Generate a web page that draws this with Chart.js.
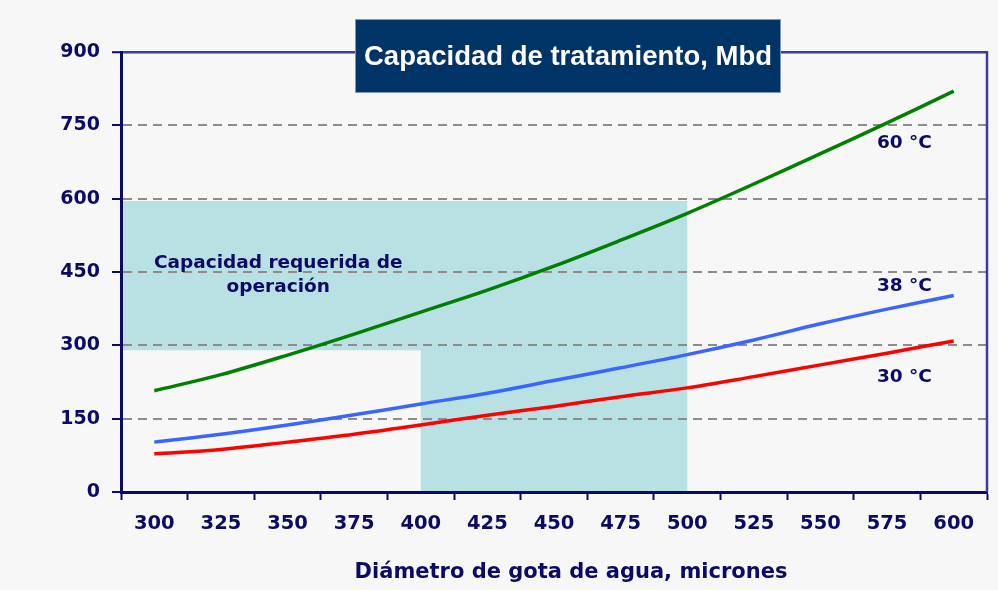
<!DOCTYPE html>
<html>
<head>
<meta charset="utf-8">
<script src="https://cdn.jsdelivr.net/npm/chart.js@4.4.1/dist/chart.umd.min.js"></script>
<style>
  html, body { margin: 0; padding: 0; background: #f7f7f7; }
  #wrap { width: 998px; height: 590px; position: relative; }
</style>
</head>
<body>
<div id="wrap"><canvas id="c"></canvas></div>
<script>
// ---- Data ----
const categories = ['300','325','350','375','400','425','450','475','500','525','550','575','600'];
const capacity60C = [207, 240, 280, 323, 368, 413, 462, 515, 570, 630, 692, 755, 820];
const capacity38C = [102, 118, 137, 158, 180, 202, 228, 254, 281, 311, 344, 374, 402];
const capacity30C = [78, 87, 102, 118, 137, 157, 175, 195, 213, 236, 260, 284, 309];
const yTickValues = [0, 150, 300, 450, 600, 750, 900];
const seriesLabels = ['60 °C', '38 °C', '30 °C'];
// required operating capacity region (category bounds and values)
const shadeCategories = ['400', '500'];
const shadeTop = 595;
const shadeLowLeft = 290;
const chartTitle = 'Capacidad de tratamiento, Mbd';
const regionLabel = ['Capacidad requerida de', 'operación'];
const xTitle = 'Diámetro de gota de agua, micrones';

// ---- Styles ----
const NAVY = '#0b0b66';
const FRAME = '#3b3ba3';
const GRID = '#8c8c8c';
const TEAL = '#b9e0e3';
const TXT_FONT = '"DejaVu Sans", Verdana, sans-serif';

const bgAndShade = {
  id: 'bgAndShade',
  beforeDraw(chart) {
    const {ctx, chartArea: a, scales: {x, y}} = chart;
    ctx.save();
    ctx.fillStyle = '#f7f7f7';
    ctx.fillRect(0, 0, chart.width, chart.height);
    ctx.fillStyle = TEAL;
    const x400 = x.getPixelForValue(categories.indexOf(shadeCategories[0]));
    const x500 = x.getPixelForValue(categories.indexOf(shadeCategories[1]));
    const yTop = y.getPixelForValue(shadeTop);
    const yLow = y.getPixelForValue(shadeLowLeft);
    const y0 = y.getPixelForValue(0);
    ctx.beginPath();
    ctx.moveTo(a.left, yTop);
    ctx.lineTo(x500, yTop);
    ctx.lineTo(x500, y0);
    ctx.lineTo(x400, y0);
    ctx.lineTo(x400, yLow);
    ctx.lineTo(a.left, yLow);
    ctx.closePath();
    ctx.fill();
    ctx.restore();
  },
  afterDatasetsDraw(chart) {
    const {ctx, chartArea: a, scales: {x, y}} = chart;
    ctx.save();
    ctx.fillStyle = NAVY;
    ctx.font = 'bold 18.5px ' + TXT_FONT;
    ctx.textAlign = 'center';
    ctx.textBaseline = 'middle';
    ctx.fillText(regionLabel[0], x.getPixelForValue(1.86), y.getPixelForValue(468));
    ctx.fillText(regionLabel[1], x.getPixelForValue(1.86), y.getPixelForValue(419));
    const lx = x.getPixelForValue(11.26);
    ctx.fillText(seriesLabels[0], lx, y.getPixelForValue(714));
    ctx.fillText(seriesLabels[1], lx, y.getPixelForValue(420));
    ctx.fillText(seriesLabels[2], lx, y.getPixelForValue(235));
    // right frame
    ctx.strokeStyle = FRAME;
    ctx.lineWidth = 2.5;
    ctx.beginPath();
    ctx.moveTo(a.right, a.top - 1);
    ctx.lineTo(a.right, a.bottom);
    ctx.stroke();
    ctx.restore();
  },
  afterDraw(chart) {
    const {ctx} = chart;
    ctx.save();
    // x axis title
    ctx.fillStyle = NAVY;
    ctx.font = 'bold 21px ' + TXT_FONT;
    ctx.textAlign = 'center';
    ctx.textBaseline = 'middle';
    ctx.fillText(xTitle, 571, 573);
    // title box
    ctx.fillStyle = '#003366';
    ctx.fillRect(355, 19, 426, 74);
    ctx.strokeStyle = '#7d98bf';
    ctx.lineWidth = 1;
    ctx.strokeRect(355.5, 19.5, 425, 73);
    ctx.fillStyle = '#ffffff';
    ctx.font = 'bold 27.5px "Liberation Sans", Arial, sans-serif';
    ctx.fillText(chartTitle, 568, 57);
    ctx.restore();
  }
};

new Chart(document.getElementById('c'), {
  type: 'line',
  data: {
    labels: categories,
    datasets: [
      { label: seriesLabels[0], data: capacity60C, borderColor: '#008000', borderWidth: 3.5, pointRadius: 0, tension: 0.35, fill: false },
      { label: seriesLabels[1], data: capacity38C, borderColor: '#3a66ff', borderWidth: 3.5, pointRadius: 0, tension: 0.35, fill: false },
      { label: seriesLabels[2], data: capacity30C, borderColor: '#ff0000', borderWidth: 3.5, pointRadius: 0, tension: 0.35, fill: false }
    ]
  },
  options: {
    responsive: true,
    maintainAspectRatio: false,
    animation: false,
    layout: { padding: { top: 52, right: 11, left: 0, bottom: 0 } },
    plugins: { legend: { display: false }, tooltip: { enabled: false } },
    scales: {
      x: {
        type: 'category',
        offset: true,
        grid: { display: true, drawOnChartArea: false, drawTicks: true, offset: true, tickLength: 8, tickColor: NAVY, tickWidth: 2 },
        border: { display: true, color: NAVY, width: 3 },
        ticks: { color: NAVY, font: { family: TXT_FONT, size: 19.5, weight: 'bold' }, padding: 12, maxRotation: 0, autoSkip: false },
        afterFit(scale) { scale.height = 98; }
      },
      y: {
        min: 0, max: 900,
        afterBuildTicks(scale) { scale.ticks = yTickValues.map(v => ({ value: v })); },
        grid: {
          color: c => c.tick.value === 900 ? FRAME : (c.tick.value === 0 ? 'rgba(0,0,0,0)' : GRID),
          lineWidth: c => c.tick.value === 900 ? 2.5 : 2,
          tickLength: 9, tickColor: NAVY, tickWidth: 2
        },
        border: { display: true, color: NAVY, width: 3, dash: c => (c.tick && c.tick.value === 900) ? [] : [9, 6] },
        ticks: { color: NAVY, font: { family: TXT_FONT, size: 19, weight: 'bold' }, padding: 12 },
        afterFit(scale) { scale.width = 121; }
      }
    }
  },
  plugins: [bgAndShade]
});
</script>
</body>
</html>
